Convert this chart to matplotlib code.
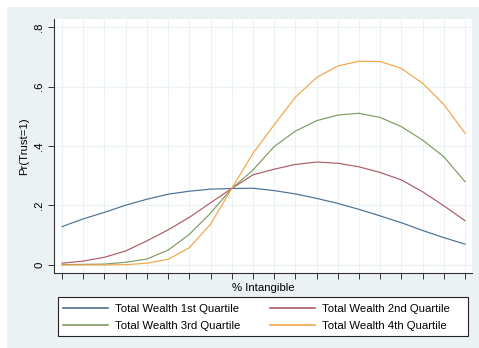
import numpy as np
import matplotlib
matplotlib.use("Agg")
import matplotlib.pyplot as plt
from matplotlib.patches import Rectangle

plt.rcParams['font.family'] = ['Liberation Sans', 'DejaVu Sans']

#----------------------------------------------------------------------------------------#
# Data (20 points along % Intangible)

x = np.arange(20)

q1 = [0.129, 0.155, 0.177, 0.201, 0.221, 0.238, 0.248, 0.255, 0.257, 0.258,
      0.250, 0.239, 0.224, 0.207, 0.187, 0.165, 0.142, 0.116, 0.092, 0.070]
q2 = [0.006, 0.013, 0.026, 0.047, 0.081, 0.118, 0.160, 0.209, 0.257, 0.303,
      0.322, 0.338, 0.346, 0.342, 0.330, 0.311, 0.286, 0.246, 0.199, 0.149]
q3 = [0.001, 0.002, 0.003, 0.009, 0.020, 0.050, 0.103, 0.174, 0.257, 0.319,
      0.398, 0.450, 0.485, 0.504, 0.510, 0.496, 0.465, 0.420, 0.364, 0.280]
q4 = [0.000, 0.000, 0.000, 0.001, 0.006, 0.019, 0.058, 0.137, 0.257, 0.375,
      0.471, 0.564, 0.630, 0.669, 0.685, 0.684, 0.661, 0.611, 0.540, 0.443]

labels = ['Total Wealth 1st Quartile', 'Total Wealth 2nd Quartile',
          'Total Wealth 3rd Quartile', 'Total Wealth 4th Quartile']
colors = ['#4a6f94', '#ad5a63', '#7f9a62', '#f2a548']

yticks = [0, 0.2, 0.4, 0.6, 0.8]
yticklabels = ['0', '.2', '.4', '.6', '.8']

#----------------------------------------------------------------------------------------#
# Plot

W, H = 479, 348
fs = 8.2
fig = plt.figure(figsize=(W / 100, H / 100), dpi=100, facecolor='white')
fig.patches.append(Rectangle((7 / W, 0), 1 - 7 / W, 1 - 7 / H, transform=fig.transFigure,
                             facecolor='#eaf2f3', edgecolor='none', zorder=-10))

ax = fig.add_axes([54 / W, 1 - 273 / H, (472 - 54) / W, (273 - 19) / H])
ax.set_facecolor('white')

lines = []
for series, lab, col in zip([q1, q2, q3, q4], labels, colors):
    l, = ax.plot(x, series, color=col, lw=0.85, label=lab)
    lines.append(l)

ax.set_xlim(-0.38, 19.33)
ax.set_ylim(-0.027, 0.827)
ax.set_xticks(x)
ax.set_xticklabels([])
ax.set_yticks(yticks)
ax.set_yticklabels(yticklabels, rotation=90, va='center', fontsize=fs)

ax.grid(True, color='#eaf2f3', lw=0.8)
ax.set_axisbelow(True)
for s in ['top', 'right']:
    ax.spines[s].set_visible(False)
for s in ['left', 'bottom']:
    ax.spines[s].set_color('#333333')
    ax.spines[s].set_linewidth(0.8)
ax.tick_params(axis='both', direction='out', length=4, width=0.7, color='#333333', pad=3)

ax.set_ylabel('Pr(Trust=1)', fontsize=fs, labelpad=4)
ax.set_xlabel('% Intangible', fontsize=fs, labelpad=0)

# legend box drawn by hand, legend itself without frame
fig.patches.append(Rectangle((58 / W, 1 - 336 / H), (468 - 58) / W, (336 - 297) / H,
                             transform=fig.transFigure, facecolor='white',
                             edgecolor='#222222', lw=0.8, zorder=1))
order = [0, 2, 1, 3]
px = fs * 100 / 72
leg = fig.legend([lines[i] for i in order], [labels[i] for i in order],
                 loc='upper left', bbox_to_anchor=(63 / W, 1 - 304 / H),
                 ncol=2, fontsize=fs, frameon=False, borderpad=0, borderaxespad=0,
                 handlelength=45 / px, handletextpad=7 / px, labelspacing=0.62,
                 columnspacing=30 / px)
leg.set_zorder(2)
for line in leg.get_lines():
    line.set_linewidth(1.2)

plt.savefig('out.png', dpi=100, facecolor='white')
